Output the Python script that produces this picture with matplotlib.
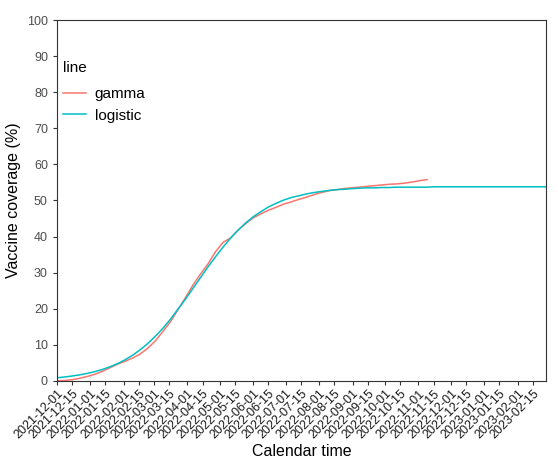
import numpy as np
import pandas as pd
import matplotlib
matplotlib.use('Agg')
import matplotlib.pyplot as plt

plt.rcParams['font.family'] = ['Liberation Sans', 'DejaVu Sans']

# weekly readings, starting 2021-12-01
start = '2021-12-01'
gamma_vals = [0.0, 0.1, 0.3, 0.7, 1.2, 1.8, 2.6, 3.6, 4.6, 5.4,
              6.3, 7.4, 9.0, 11.0, 13.6, 16.3, 19.6, 23.0, 26.5, 29.6,
              32.4, 35.8, 38.4, 39.6, 41.8, 43.6, 45.2, 46.3, 47.3, 48.1,
              49.0, 49.6, 50.3, 50.9, 51.6, 52.2, 52.7, 53.0, 53.3, 53.5,
              53.7, 53.9, 54.1, 54.3, 54.5, 54.6, 54.8, 55.1, 55.5, 55.8]
logistic_vals = [0.85, 1.06, 1.33, 1.65, 2.05, 2.54, 3.13, 3.87, 4.74, 5.80,
                 7.07, 8.57, 10.3, 12.3, 14.5, 17.0, 19.8, 22.6, 25.6, 28.6,
                 31.6, 34.4, 37.1, 39.6, 41.8, 43.8, 45.5, 46.9, 48.2, 49.2,
                 50.1, 50.8, 51.3, 51.8, 52.2, 52.5, 52.8, 53.0, 53.1, 53.3,
                 53.4, 53.5, 53.5, 53.6, 53.6, 53.7, 53.7, 53.7, 53.7, 53.7,
                 53.8, 53.8, 53.8, 53.8, 53.8, 53.8, 53.8, 53.8, 53.8, 53.8,
                 53.8, 53.8, 53.8, 53.8, 53.8, 53.8]
x_end = '2023-02-27'
y_ticks = [0, 10, 20, 30, 40, 50, 60, 70, 80, 90, 100]

gamma_dates = pd.date_range(start, periods=len(gamma_vals), freq='7D')
logistic_dates = pd.date_range(start, periods=len(logistic_vals), freq='7D')

# ticks on the 1st and 15th of each month
month_starts = pd.date_range('2021-12-01', '2023-02-15', freq='MS')
tick_dates = sorted(list(month_starts) + list(month_starts + pd.Timedelta(days=14)))
tick_labels = [d.strftime('%Y-%m-%d') for d in tick_dates]

fig = plt.figure(figsize=(5.58, 4.69), dpi=100)
ax = fig.add_axes([0.102, 0.188, 0.876, 0.769])

ax.plot(gamma_dates, gamma_vals, color='#F8766D', lw=1.1, label='gamma')
ax.plot(logistic_dates, logistic_vals, color='#00BFC4', lw=1.1, label='logistic')

ax.set_xlim(pd.Timestamp(start), pd.Timestamp(x_end))
ax.set_ylim(0, 100)
ax.set_yticks(y_ticks)
ax.set_xticks(tick_dates)
ax.set_xticklabels(tick_labels, rotation=45, ha='right', rotation_mode='anchor',
                   fontsize=9, color='#1a1a1a')
ax.tick_params(axis='y', labelsize=9, labelcolor='#4d4d4d', color='#333333', length=3)
ax.tick_params(axis='x', color='#333333', length=3, pad=2)
for s in ax.spines.values():
    s.set_color('#333333')
    s.set_linewidth(0.8)

ax.set_xlabel('Calendar time', fontsize=11.5, labelpad=2)
ax.set_ylabel('Vaccine coverage (%)', fontsize=11.5, labelpad=4)

leg = ax.legend(title='line', loc='upper left', bbox_to_anchor=(-0.004, 0.909),
                frameon=False, fontsize=11, title_fontsize=11, borderpad=0,
                handlelength=1.5, handletextpad=0.6, labelspacing=0.5)
leg._legend_box.align = 'left'
leg._legend_box.sep = 9

fig.savefig('out.png', dpi=100)
